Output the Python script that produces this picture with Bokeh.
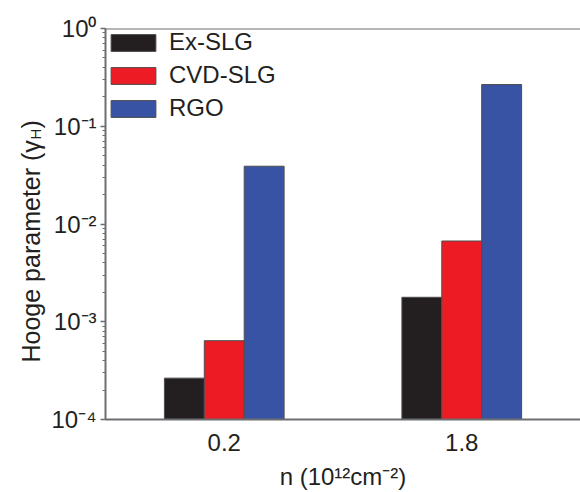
import numpy as np
from bokeh.plotting import figure
from bokeh.layouts import row
from bokeh.models import (ColumnDataSource, FactorRange, Range1d, LogTicker,
                          CustomJSTickFormatter, Label, Span)
from bokeh.transform import dodge
from bokeh.embed import file_html
from bokeh.resources import INLINE

# ---- data ----
densities = ["0.2", "1.8"]                 # n (10^12 cm^-2)
series = ["Ex-SLG", "CVD-SLG", "RGO"]
ex_slg = [2.65e-4, 1.78e-3]
cvd_slg = [6.4e-4, 6.7e-3]
rgo = [3.9e-2, 2.67e-1]
y_start, y_end = 1e-4, 1.0

colors = ["#231f20", "#ed1c24", "#3953a4"]
FONT = "Liberation Sans"
TXT = "#231f20"
AX = "#6d6e71"
H = 492
SIDE_W = 46

src = ColumnDataSource(dict(n=densities, ex=ex_slg, cvd=cvd_slg, rgo=rgo,
                            base=[y_start] * len(densities)))

# ---- narrow panel that carries the y-axis title (with subscript) ----
# (its frame is aligned with the main frame: bottom at page y=419)
side = figure(width=SIDE_W, height=H, x_range=Range1d(0, 1), y_range=Range1d(0, 1),
              x_axis_type=None, y_axis_type=None, output_backend="svg",
              toolbar_location=None, min_border=0, min_border_left=0,
              min_border_right=0, min_border_top=0, min_border_bottom=0)
side.outline_line_color = None
side.border_fill_color = "white"
side.background_fill_color = "white"
side.add_layout(Label(x=30, y=57, x_units="screen", y_units="screen",
                      text="Hooge parameter (\u03b3", angle=np.pi / 2,
                      text_font=FONT, text_font_size="25px", text_color=TXT,
                      text_align="left", text_baseline="alphabetic"))
side.add_layout(Label(x=35, y=280, x_units="screen", y_units="screen",
                      text="H", angle=np.pi / 2,
                      text_font=FONT, text_font_size="15px", text_color=TXT,
                      text_align="left", text_baseline="alphabetic"))
side.add_layout(Label(x=30, y=291, x_units="screen", y_units="screen",
                      text=")", angle=np.pi / 2,
                      text_font=FONT, text_font_size="25px", text_color=TXT,
                      text_align="left", text_baseline="alphabetic"))

# ---- main chart ----
p = figure(width=580 - SIDE_W, height=H,
           x_range=FactorRange(factors=densities, range_padding=0),
           y_range=Range1d(y_start, y_end), y_axis_type="log",
           output_backend="svg", toolbar_location=None,
           min_border_left=105 - SIDE_W, min_border_right=0,
           min_border_top=28, min_border_bottom=H - 419)
p.outline_line_color = None
p.xgrid.visible = False
p.ygrid.visible = False
p.background_fill_color = "white"
p.border_fill_color = "white"

bar_w = 0.168
for key, name, color, off in zip(["ex", "cvd", "rgo"], series, colors,
                                 [-bar_w, 0.0, bar_w]):
    p.vbar(x=dodge("n", off, range=p.x_range), top=key, bottom="base",
           width=bar_w, source=src, fill_color=color, line_color="#4d4d4f",
           line_width=1, legend_label=name)

# y axis
yax = p.yaxis[0]
yax.ticker = LogTicker(mantissas=[1], desired_num_ticks=5, num_minor_ticks=10)
yax.formatter = CustomJSTickFormatter(code="""
const sup = {"-": "\u207b", "0": "\u2070", "1": "\u00b9", "2": "\u00b2", "3": "\u00b3",
             "4": "\u2074", "5": "\u2075", "6": "\u2076", "7": "\u2077", "8": "\u2078", "9": "\u2079"};
const e = Math.round(Math.log10(tick));
return "10" + String(e).split("").map(c => sup[c]).join("");
""")
yax.axis_line_color = AX
yax.axis_line_width = 2
yax.major_tick_line_color = AX
yax.minor_tick_line_color = AX
yax.major_tick_line_width = 1.5
yax.minor_tick_line_width = 1
yax.major_tick_out = 5
yax.major_tick_in = 0
yax.minor_tick_out = 3
yax.minor_tick_in = 0
yax.major_label_text_font = FONT
yax.major_label_text_font_size = "24px"
yax.major_label_text_color = TXT
yax.major_label_standoff = 4

# x axis
xax = p.xaxis[0]
xax.axis_line_color = AX
xax.axis_line_width = 2
xax.major_tick_out = 0
xax.major_tick_in = 0
xax.minor_tick_out = 0
xax.major_label_text_font = FONT
xax.major_label_text_font_size = "24px"
xax.major_label_text_color = TXT
xax.major_label_standoff = 14
xax.axis_label = "n (10\u00b9\u00b2cm\u207b\u00b2)"
xax.axis_label_text_font = FONT
xax.axis_label_text_font_size = "24px"
xax.axis_label_text_font_style = "normal"
xax.axis_label_text_color = TXT
xax.axis_label_standoff = 9

# top frame line
p.add_layout(Span(location=y_end, dimension="width", line_color=AX, line_width=2))

# legend
lg = p.legend[0]
lg.location = "top_left"
lg.margin = 0
lg.padding = 3
lg.spacing = 5
lg.glyph_width = 56
lg.glyph_height = 21
lg.label_height = 26
lg.label_standoff = 8
lg.label_text_font = FONT
lg.label_text_font_size = "24px"
lg.label_text_color = TXT
lg.border_line_color = None
lg.background_fill_alpha = 0

layout = row(side, p)
open("out.html", "w").write(file_html(layout, INLINE))
